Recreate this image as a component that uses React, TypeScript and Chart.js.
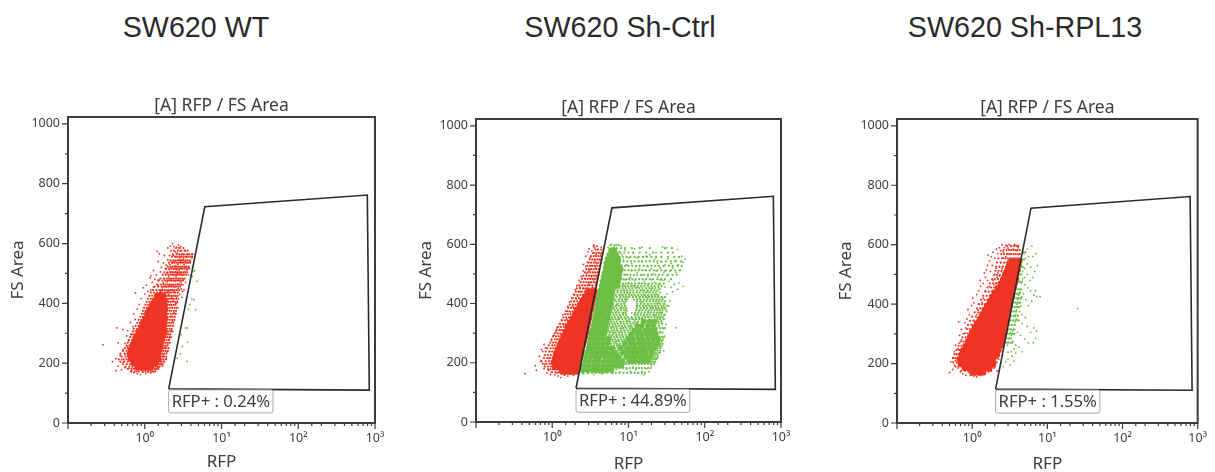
import React, { useEffect, useRef } from "react";
import { Chart, registerables } from "chart.js";

Chart.register(...registerables);

const panelTitles = ["SW620 WT", "SW620 Sh-Ctrl", "SW620 Sh-RPL13"];
const gateLabels = ["RFP+ : 0.24%", "RFP+ : 44.89%", "RFP+ : 1.55%"];
const plotTitle = "[A] RFP / FS Area";
const gateX = [2.05, 6.06, 794, 843, 2.05];
const gateY = [114, 723, 762, 110, 114];

// Dense parts of each cloud: [FS Area, RFP, RFP, ...]
const wtRedCore = [
  [185, .8, .9, 1.0, 1.1, 1.2],
  [200, .72, .82, .92, 1.03, 1.15, 1.28, 1.4],
  [215, .66, .76, .86, .97, 1.09, 1.22, 1.36, 1.5],
  [230, .64, .74, .84, .95, 1.07, 1.2, 1.34, 1.5],
  [245, .66, .76, .87, .98, 1.1, 1.24, 1.4, 1.55],
  [260, .7, .8, .9, 1.02, 1.15, 1.3, 1.45, 1.6],
  [275, .74, .84, .95, 1.07, 1.2, 1.35, 1.5, 1.65],
  [290, .78, .88, 1.0, 1.12, 1.26, 1.42, 1.6, 1.72],
  [305, .84, .95, 1.06, 1.2, 1.35, 1.5, 1.68, 1.8],
  [320, .9, 1.0, 1.12, 1.26, 1.42, 1.58, 1.75],
  [335, .95, 1.07, 1.2, 1.34, 1.5, 1.65, 1.8],
  [350, 1.02, 1.15, 1.28, 1.42, 1.58, 1.75, 1.85],
  [365, 1.08, 1.2, 1.34, 1.5, 1.65, 1.8],
  [380, 1.15, 1.28, 1.42, 1.58, 1.72, 1.85],
  [395, 1.25, 1.38, 1.52, 1.68, 1.82],
  [410, 1.35, 1.5, 1.65, 1.8],
  [425, 1.45, 1.6, 1.75],
];
const ctrlRedCore = [
  [170, 1.35, 1.5, 1.68, 1.85, 2.05],
  [185, 1.1, 1.22, 1.36, 1.5, 1.68, 1.85, 2.05, 2.2],
  [200, 1.05, 1.16, 1.3, 1.44, 1.6, 1.78, 1.98, 2.2],
  [215, 1.08, 1.2, 1.33, 1.48, 1.65, 1.83, 2.03, 2.28],
  [230, 1.12, 1.25, 1.38, 1.54, 1.7, 1.9, 2.1, 2.35],
  [245, 1.18, 1.3, 1.45, 1.6, 1.78, 1.98, 2.2, 2.42],
  [260, 1.25, 1.38, 1.53, 1.7, 1.88, 2.08, 2.3, 2.52],
  [275, 1.32, 1.46, 1.62, 1.8, 2, 2.2, 2.44, 2.62],
  [290, 1.4, 1.55, 1.72, 1.9, 2.1, 2.32, 2.55, 2.72],
  [305, 1.5, 1.66, 1.84, 2.04, 2.25, 2.48, 2.7, 2.82],
  [320, 1.6, 1.78, 1.96, 2.16, 2.38, 2.6, 2.85],
  [335, 1.72, 1.9, 2.1, 2.3, 2.5, 2.75, 2.95],
  [350, 1.85, 2.04, 2.25, 2.46, 2.7, 2.95, 3.05],
  [365, 2, 2.2, 2.42, 2.65, 2.9, 3.1],
  [380, 2.15, 2.36, 2.6, 2.85, 3.1, 3.22],
  [395, 2.3, 2.52, 2.78, 3.05, 3.3],
  [410, 2.5, 2.72, 2.98, 3.25, 3.4],
  [425, 2.7, 2.95, 3.2, 3.5],
  [440, 2.95, 3.2, 3.5, 3.6],
];
const ctrlGreenCore = [
  [175, 2.5, 2.9, 3.4, 3.9, 4.5, 5.2, 6],
  [190, 2.6, 3, 3.5, 4, 4.6, 5.3, 6.1, 7, 8],
  [205, 2.7, 3.1, 3.6, 4.1, 4.8, 5.5, 6.3, 7.2, 8.2, 10.5, 12, 14, 16, 18],
  [220, 2.75, 3.2, 3.7, 4.2, 4.9, 5.6, 6.4, 7.3, 9.5, 11, 12.5, 14.5, 16.5, 19],
  [235, 2.85, 3.3, 3.8, 4.4, 5, 5.8, 6.6, 8.5, 10, 11.5, 13, 15, 17, 20],
  [250, 3, 3.4, 3.9, 4.5, 5.2, 6, 8, 9.5, 11, 12.5, 14.5, 16.5, 19, 22],
  [265, 3.05, 3.5, 4, 4.6, 5.3, 9, 10.5, 12, 14, 16, 18.5, 21, 24],
  [280, 3.15, 3.6, 4.1, 4.7, 5.4, 10, 11.5, 13.5, 15.5, 18, 21, 24],
  [295, 3.25, 3.7, 4.2, 4.8, 11, 13, 15, 17.5, 20, 23],
  [310, 3.35, 3.8, 4.3, 4.9, 12, 14, 16.5, 19, 22],
  [325, 3.45, 3.9, 4.4, 5, 13, 15, 18, 21],
  [340, 3.55, 4, 4.6, 5.2, 16, 19, 22],
  [355, 3.65, 4.1, 4.7, 5.3],
  [370, 3.75, 4.25, 4.8, 5.5],
  [385, 3.85, 4.4, 5, 5.7],
  [400, 3.95, 4.5, 5.1, 5.8],
  [415, 4.05, 4.6, 5.2, 5.9],
  [430, 4.2, 4.7, 5.3, 6],
  [445, 4.3, 4.85, 5.5, 6.2],
  [460, 4.45, 5, 5.6, 6.4, 7.2],
  [475, 4.55, 5.1, 5.8, 6.5, 7.3],
  [490, 4.7, 5.3, 6, 6.7, 7.5],
  [505, 4.85, 5.4, 6.1, 6.9, 7.7],
  [520, 5, 5.6, 6.3, 7, 7.8],
  [535, 5.1, 5.7, 6.4, 7.2],
  [550, 5.3, 5.9, 6.6, 7.3],
  [565, 5.6, 6.2, 6.9],
  [580, 5.9, 6.5],
];
const rplRedCore = [
  [170, 1, 1.12, 1.25, 1.4],
  [185, .8, .9, 1, 1.12, 1.25, 1.4, 1.55, 1.7],
  [200, .7, .8, .9, 1, 1.12, 1.25, 1.4, 1.55, 1.72, 1.9],
  [215, .68, .77, .87, .98, 1.1, 1.23, 1.37, 1.53, 1.7, 1.9],
  [230, .72, .82, .92, 1.03, 1.16, 1.3, 1.45, 1.62, 1.8, 2, 2.15],
  [245, .76, .86, .97, 1.08, 1.21, 1.36, 1.52, 1.7, 1.9, 2.1, 2.25],
  [260, .82, .92, 1.03, 1.15, 1.29, 1.44, 1.6, 1.8, 2, 2.2, 2.4],
  [275, .88, .99, 1.1, 1.23, 1.37, 1.53, 1.7, 1.9, 2.1, 2.3, 2.5],
  [290, .94, 1.06, 1.18, 1.32, 1.47, 1.63, 1.82, 2, 2.25, 2.45, 2.6],
  [305, 1, 1.12, 1.26, 1.4, 1.56, 1.74, 1.94, 2.15, 2.4, 2.6, 2.7],
  [320, 1.08, 1.2, 1.34, 1.5, 1.66, 1.85, 2.05, 2.28, 2.5, 2.75],
  [335, 1.16, 1.3, 1.45, 1.6, 1.78, 1.98, 2.2, 2.42, 2.65, 2.85],
  [350, 1.26, 1.4, 1.55, 1.72, 1.9, 2.1, 2.32, 2.55, 2.8, 2.95],
  [365, 1.36, 1.5, 1.66, 1.84, 2.04, 2.25, 2.48, 2.72, 2.98],
  [380, 1.46, 1.62, 1.8, 1.98, 2.18, 2.4, 2.62, 2.88, 3.05],
  [395, 1.58, 1.75, 1.94, 2.14, 2.35, 2.58, 2.8, 3.05, 3.2],
  [410, 1.72, 1.9, 2.1, 2.3, 2.52, 2.75, 3, 3.25],
  [425, 1.85, 2.05, 2.25, 2.47, 2.7, 2.95, 3.2, 3.4],
  [440, 2, 2.2, 2.42, 2.65, 2.9, 3.15, 3.45],
  [455, 2.2, 2.42, 2.65, 2.9, 3.15, 3.4, 3.6],
  [470, 2.4, 2.62, 2.87, 3.12, 3.4, 3.7],
  [485, 2.6, 2.85, 3.1, 3.35, 3.65, 3.85],
  [500, 2.75, 3, 3.25, 3.55, 3.85],
  [515, 2.95, 3.2, 3.5, 3.8, 4.05],
  [530, 3.1, 3.4, 3.7, 3.95, 4.15],
  [545, 3.3, 3.6, 3.9, 4.25],
];

// Lighter bands of single events around the dense parts: [FS Area, RFP, RFP, ...]
const wtRedHalo = [
  [172, .66, .74, .83, .93, 1.02, 1.1, 1.2, 1.28, 1.36],
  [181, .6, .67, .72, 1.26, 1.34, 1.42, 1.5],
  [188, .56, .63, .69, 1.3, 1.38, 1.47, 1.55],
  [196, .52, .58, .64, .68, 1.46, 1.55, 1.63, 1.72],
  [205, .48, .54, .6, .66, 1.5, 1.58, 1.66, 1.78],
  [213, .46, .53, .58, .62, 1.58, 1.66, 1.75, 1.88],
  [222, .5, .56, .6, 1.6, 1.7, 1.78, 1.9],
  [232, .48, .55, .6, 1.6, 1.68, 1.8, 1.92],
  [241, .52, .58, .62, 1.64, 1.74, 1.86, 2],
  [250, .55, .6, .64, 1.68, 1.78, 1.9, 2.04],
  [259, .58, .63, .67, 1.72, 1.84, 1.96],
  [268, .6, .66, .7, 1.76, 1.88, 2, 2.12],
  [277, .62, .68, .72, 1.8, 1.92, 2.05],
  [287, .65, .71, .75, 1.85, 1.96, 2.1, 2.2],
  [296, .68, .73, .78, 1.9, 2, 2.15],
  [306, .7, .76, .81, 1.95, 2.05, 2.2, 2.3],
  [315, .72, .79, .85, 1.95, 2.1, 2.24],
  [325, .76, .83, .88, 1.92, 2.02, 2.15, 2.3],
  [335, .8, .86, .92, 1.95, 2.08, 2.22, 2.36],
  [345, .83, .9, .97, 1.98, 2.12, 2.28, 2.42],
  [355, .88, .95, 1.02, 1.98, 2.15, 2.3, 2.46],
  [365, .92, .98, 1.05, 2, 2.18, 2.34, 2.5],
  [375, .95, 1.02, 1.1, 1.95, 2.1, 2.22, 2.4, 2.55],
  [385, .98, 1.06, 1.14, 1.98, 2.12, 2.28, 2.45, 2.6],
  [395, 1.02, 1.1, 1.18, 1.95, 2.08, 2.22, 2.36, 2.52],
  [405, 1.06, 1.15, 1.24, 1.95, 2.05, 2.18, 2.32, 2.5, 2.65],
  [415, 1.1, 1.2, 1.3, 1.92, 2.02, 2.14, 2.26, 2.4, 2.58],
  [425, 1.15, 1.25, 1.36, 1.88, 2, 2.1, 2.22, 2.35, 2.5, 2.68],
  [436, 1.2, 1.32, 1.46, 1.58, 1.7, 1.84, 1.96, 2.08, 2.2, 2.36, 2.5, 2.7],
  [444, 1.28, 1.42, 1.56, 1.68, 1.8, 1.92, 2.04, 2.16, 2.3, 2.44, 2.6, 2.8],
  [456, 1.35, 1.5, 1.66, 1.78, 1.9, 2.02, 2.14, 2.26, 2.4, 2.56, 2.74, 2.9],
  [463, 1.45, 1.62, 1.76, 1.88, 2, 2.12, 2.25, 2.38, 2.52, 2.68, 2.84, 3],
  [476, 1.5, 1.7, 1.85, 1.98, 2.1, 2.24, 2.36, 2.5, 2.64, 2.8, 2.96, 3.15],
  [483, 1.6, 1.78, 1.94, 2.06, 2.2, 2.34, 2.48, 2.62, 2.76, 2.92, 3.1, 3.3],
  [496, 1.72, 1.88, 2.04, 2.18, 2.3, 2.44, 2.58, 2.72, 2.88, 3.04, 3.22, 3.45],
  [504, 1.8, 1.98, 2.14, 2.28, 2.42, 2.56, 2.7, 2.86, 3.02, 3.2, 3.38, 3.6],
  [516, 1.9, 2.08, 2.24, 2.38, 2.52, 2.66, 2.82, 2.98, 3.14, 3.32, 3.55, 3.8],
  [523, 2, 2.16, 2.32, 2.48, 2.62, 2.78, 2.94, 3.1, 3.28, 3.48, 3.7],
  [536, 2.06, 2.26, 2.42, 2.58, 2.74, 2.9, 3.06, 3.24, 3.44, 3.66, 3.9],
  [544, 2.16, 2.36, 2.54, 2.72, 2.88, 3.04, 3.22, 3.42, 3.62, 3.85],
  [556, 2.26, 2.48, 2.66, 2.84, 3, 3.2, 3.4, 3.64, 3.9, 4.15],
  [564, 2.32, 2.6, 2.82, 3.02, 3.24, 3.5, 3.8, 4.1],
  [576, 2.4, 2.7, 3, 3.3, 3.6],
  [585, 2.55, 2.85, 3.2],
];
const ctrlRedHalo = [
  [168, .98, 1.1, 1.2, 1.28],
  [178, .88, .95, 1.02, 1.08, 1.2],
  [187, .8, .88, .96, 1.02],
  [197, .75, .84, .92, .98],
  [206, .72, .82, .9, .98, 1.02],
  [216, .78, .86, .94, 1.02],
  [226, .8, .88, .96, 1.05],
  [238, .82, .92, 1, 1.08],
  [249, .86, .95, 1.04, 1.12],
  [259, .9, 1, 1.08, 1.18],
  [268, .94, 1.03, 1.12, 1.22],
  [279, .98, 1.08, 1.16, 1.26],
  [289, 1.02, 1.12, 1.22, 1.32],
  [299, 1.08, 1.18, 1.28, 1.4],
  [310, 1.14, 1.24, 1.35, 1.45],
  [321, 1.2, 1.3, 1.42, 1.52],
  [331, 1.26, 1.38, 1.5, 1.62],
  [343, 1.34, 1.46, 1.58, 1.72],
  [353, 1.4, 1.52, 1.66, 1.8],
  [364, 1.48, 1.6, 1.74, 1.9],
  [374, 1.56, 1.68, 1.84, 2],
  [385, 1.62, 1.76, 1.92, 2.08],
  [396, 1.7, 1.86, 2.02, 2.2],
  [407, 1.78, 1.94, 2.12, 2.32],
  [418, 1.86, 2.04, 2.24, 2.44, 2.66],
  [429, 1.95, 2.14, 2.34, 2.54],
  [440, 2.04, 2.24, 2.44, 2.66],
  [451, 2.1, 2.32, 2.54, 2.76, 3, 3.3, 3.6],
  [461, 2.25, 2.46, 2.68, 2.9, 3.1, 3.35, 3.7],
  [472, 2.36, 2.58, 2.8, 3.02, 3.25, 3.5, 3.8],
  [483, 2.45, 2.7, 2.92, 3.14, 3.38, 3.64, 3.9],
  [494, 2.55, 2.8, 3.04, 3.28, 3.52, 3.78, 4],
  [505, 2.68, 2.92, 3.16, 3.4, 3.66, 3.92, 4.1],
  [516, 2.8, 3.02, 3.26, 3.5, 3.78, 4.05],
  [527, 2.9, 3.14, 3.38, 3.62, 3.9, 4.2],
  [538, 3, 3.24, 3.5, 3.76, 4.05, 4.3],
  [549, 3.1, 3.36, 3.62, 3.9, 4.2, 4.4],
  [560, 3.22, 3.5, 3.76, 4.05, 4.35],
  [571, 3.5, 3.8, 4.1, 4.5],
  [582, 3.7, 4, 4.4],
  [593, 3.5, 3.85],
];
const ctrlGreenHalo = [
  [166, 2.5, 2.9, 3.3, 3.7, 4.2, 4.7, 5.3, 6, 6.8, 7.6, 8.6, 9.6, 10.8, 12, 13.4, 15, 16.5],
  [182, 6.8, 7.6, 8.6, 9.4, 10.4, 11.4, 12.6, 13.8, 15, 16.4, 18, 19.5],
  [196, 8.6, 9.4, 10.2, 11.2, 12.4, 13.6, 15, 16.4, 18, 19.8, 21.5],
  [204, 8.9, 9.6, 19.8, 21, 22.5],
  [212, 7.8, 8.6, 9.2, 20, 21.5, 23],
  [219, 8, 8.8, 9, 20.5, 22, 24],
  [227, 7, 7.6, 8.3, 9, 21, 22.5, 24],
  [234, 7.2, 7.8, 8.2, 21.5, 23, 25],
  [241, 6.8, 7.4, 8, 9, 22, 24, 26],
  [249, 6.6, 7.2, 7.7, 24, 26],
  [257, 6.4, 7, 7.6, 8.4, 23, 25, 27],
  [264, 5.9, 6.5, 7, 7.7, 8.4, 26, 28],
  [272, 5.8, 6.3, 6.9, 7.5, 8.2, 9, 25, 27],
  [279, 5.6, 6.1, 6.7, 7.4, 8, 8.8, 9.4, 26, 28],
  [287, 5.4, 5.9, 6.5, 7.1, 7.8, 8.5, 9.4, 10.4, 25, 27, 29],
  [294, 5.1, 5.6, 6.2, 6.9, 7.6, 8.3, 9.2, 10.1],
  [302, 5.2, 5.7, 6.2, 6.8, 7.5, 8.2, 9, 10, 10.8, 24, 26, 28],
  [309, 5.4, 6, 6.5, 7.2, 8, 8.8, 9.7, 10.6, 11.5],
  [317, 5.4, 5.9, 6.4, 7, 7.8, 8.5, 9.4, 10.4, 11.2, 23.5, 26, 28, 30],
  [324, 5.6, 6.2, 6.8, 7.4, 8.2, 9, 10, 11, 12.2, 22.5, 25],
  [332, 5.6, 6.1, 6.6, 7.2, 7.9, 8.7, 9.6, 10.6, 11.6, 12.8, 23, 25, 27.5],
  [339, 5.9, 6.4, 7, 7.8, 8.6, 9.5, 10.4, 12, 13.4, 14.8, 15.5, 24.5, 27],
  [347, 5.7, 6.2, 6.8, 7.5, 8.3, 9.2, 10.2, 11.4, 12.6, 13.8, 15, 24, 26, 29],
  [354, 6, 6.6, 7.3, 8, 8.9, 9.8, 11, 12.4, 13.6, 15.2, 16.6, 18.2, 20, 22, 24, 26, 28],
  [362, 5.8, 6.4, 7, 7.7, 8.5, 9.3, 12, 13.2, 14.5, 16, 17.5, 19, 21, 23, 25, 27, 30],
  [369, 6.2, 6.8, 7.5, 8.4, 9.1, 12.3, 13.5, 14.8, 16.4, 18, 19.5, 21.5, 23.5, 25.5, 27.5],
  [377, 6, 6.6, 7.3, 8, 8.8, 9.4, 12.6, 13.8, 15.2, 16.8, 18.4, 20, 22, 24, 26, 28, 31],
  [384, 6.4, 7, 7.8, 8.6, 9.3, 12.9, 14.4, 16, 17.6, 19.4, 21, 23, 25, 28, 30],
  [392, 6.2, 6.8, 7.5, 8.2, 9, 12.8, 14, 15.6, 17, 18.8, 20.5, 22.5, 24.5, 27, 29, 32],
  [399, 6.3, 7.2, 8, 8.8, 13, 14.6, 16.2, 18, 19.8, 21.8, 23.8, 26, 29],
  [407, 6.2, 6.9, 7.6, 8.4, 9.2, 12.8, 14.2, 15.6, 17.2, 19, 21, 23, 25, 27.5, 30],
  [414, 6.6, 7.4, 8.2, 9, 9.6, 11.8, 13, 14.4, 16, 17.6, 19.4, 21.4, 23.4, 25.6, 28],
  [422, 6.4, 7, 7.8, 8.6, 9.4, 10.2, 11.4, 12.6, 14, 15.4, 17, 18.6, 20.5, 22.5, 24.5, 27, 30],
  [429, 6.8, 7.6, 8.4, 9.2, 10.2, 11, 12, 13.4, 14.8, 16.4, 18, 20, 22, 24.6],
  [437, 6.5, 7.2, 8, 8.8, 9.6, 10.5, 11.6, 12.8, 14, 15.6, 17, 19, 21, 23, 26],
  [444, 7.2, 8, 8.8, 9.6, 10.6, 11.6, 13, 14.4, 16, 17.8, 19.8, 21.8, 24],
  [452, 6.9, 7.6, 8.4, 9.2, 10.2, 11.2, 12.4, 13.8, 15.2, 17, 18.8, 20.6, 22.6, 25],
  [459, 7.6, 8.3, 9, 9.8, 10.8, 12, 13.2, 14.6, 16.2, 18, 20, 22, 24.5, 27],
  [467, 7.6, 8.4, 9.2, 10, 11, 12.2, 13.6, 15, 16.5, 18.5, 20.5, 23, 26, 29],
  [482, 8, 8.6, 9.4, 10.2, 11.2, 12.4, 13.8, 15.4, 17, 19, 21, 24, 27, 30, 36],
  [497, 8, 8.8, 9.6, 10.6, 11.8, 13, 14.6, 16, 18, 20, 22.5, 25, 28, 33, 38, 43],
  [512, 8.2, 9, 10, 11, 12.2, 13.6, 15, 17, 19, 21.5, 24, 27, 31, 36, 41, 47],
  [527, 8.2, 9, 10, 11.2, 12.6, 14, 15.8, 17.6, 20, 22.5, 25, 29, 34, 38, 44, 50],
  [542, 7.8, 8.6, 9.6, 10.8, 12, 13.6, 15, 17, 19, 21.5, 24, 27, 31, 36, 42, 49],
  [557, 7.6, 8.4, 9.4, 10.6, 12, 13.6, 15.5, 17.5, 20, 23, 27, 33, 40, 46],
  [572, 7, 7.8, 8.8, 10, 11.5, 14, 17, 21, 27, 33, 38],
  [587, 6.2, 7, 8, 9, 11, 14, 19, 30, 37],
  [597, 5.8, 6.6, 7.4],
];
const rplRedHalo = [
  [162, .98, 1.08, 1.2, 1.3],
  [176, .72, .8, .88, 1.5, 1.6, 1.72],
  [190, .6, .66, .72, .76, 1.78, 1.88, 2],
  [204, .56, .62, .66, 2, 2.1],
  [218, .56, .6, .64, 2.04, 2.16],
  [232, .58, .62, .66, 2.2],
  [246, .62, .67, .71],
  [260, .66, .72, .77],
  [274, .7, .76, .82],
  [288, .74, .82, .89],
  [302, .8, .87, .94],
  [316, .86, .93, 1],
  [330, .88, .98, 1.07],
  [344, .94, 1.04, 1.15],
  [358, 1, 1.12, 1.24],
  [372, 1.08, 1.2, 1.3],
  [386, 1.16, 1.28, 1.38],
  [400, 1.22, 1.36, 1.5],
  [414, 1.32, 1.46, 1.6],
  [428, 1.4, 1.56, 1.72],
  [442, 1.5, 1.66, 1.84],
  [456, 1.6, 1.78, 1.96, 2.08],
  [470, 1.72, 1.9, 2.08, 2.24],
  [484, 1.84, 2, 2.2, 2.44],
  [498, 1.96, 2.14, 2.34, 2.56],
  [512, 2.04, 2.24, 2.46, 2.68],
  [526, 2.08, 2.32, 2.56, 2.82],
  [540, 2.14, 2.4, 2.66, 2.9],
  [554, 2.24, 2.5, 2.76, 2.98, 3.2, 3.45, 3.7, 4, 4.3],
  [568, 2.44, 2.66, 2.9, 3.1, 3.3, 3.55, 3.8, 4.1, 4.3],
  [582, 2.6, 2.86, 3.1, 3.3, 3.55, 3.75, 4, 4.3],
  [596, 2.9, 3.3, 3.6, 3.9, 4.1],
];
const rplGreenHalo = [
  [270, 2.8, 3, 3.4],
  [285, 2.85, 3.05, 3.3],
  [300, 2.95, 3.15, 3.4, 3.65],
  [315, 3.05, 3.25, 3.55],
  [330, 3.15, 3.4, 3.7],
  [345, 3.25, 3.5, 3.8, 4.1],
  [360, 3.3, 3.55, 3.75, 4.05],
  [375, 3.35, 3.6, 3.85],
  [390, 3.45, 3.7, 3.95, 4.25],
  [405, 3.55, 3.8, 4.05, 4.35],
  [420, 3.65, 3.9, 4.15, 4.5],
  [435, 3.8, 4, 4.25],
  [450, 3.9, 4.15, 4.4],
  [475, 4.1, 4.3, 4.6],
  [500, 4.25, 4.5],
  [525, 4.4, 4.7],
  [550, 4.6, 4.9],
  [575, 4.8, 5.1],
];

// Scattered single events: RFP, FS Area, RFP, FS Area, ...
const wtRedDots = [
  .72,168, .8,165, .88,162, .95,170, 1.03,166, 1.12,170, 1.2,168, .68,175, .62,182, .55,185, .5,178, .42,175, .45,190,
  1.3,172, 1.4,178, 1.5,185, 1.6,195, 1.7,190, .78,172, .58,197, .52,203, .38,205, .42,215, .5,212, .48,226, .55,231,
  .52,245, .6,255, .286,262, .45,268, .55,266, .62,275, .58,291, .66,296, .6,309, .52,312, .435,318, .7,322, .65,336,
  .75,346, .72,365, .8,381, .755,435, .85,396, .9,416, 1,431, .95,452, 1.05,461, 1.18,485, 1.2,492, 1.3,510, 1.45,574,
  1.55,566, 1.5,540, 1.65,200, 1.8,205, 1.9,215, 1.75,228, 1.95,238, 1.85,255, 2.0,262, 2.1,280, 2.05,296, 2.2,310,
  2.15,326, 2.3,340, 2.25,356, 2.4,370, 2.3,385, 2.5,398, 2.35,408, 2.6,420, 1.1,440, 1.2,445, 1.3,455, 1.25,470,
  1.38,432, 1.35,480, 1.42,495, 1.5,460, 1.55,478, 1.6,505, 1.65,520, 1.62,440, 1.7,452, 1.75,468, 1.8,482, 1.85,436,
  1.9,455, 1.95,472, 2,440, 2.1,458, 2.05,490, 2.15,478, 2.2,445, 2.3,462, 2.4,438, 2.45,455, 2.5,475, 2.6,445, 2.7,465,
  2.8,482, 2.65,500, 2.55,490, 2.35,495, 2.25,505, 2.1,512, 1.95,500, 1.85,515, 1.75,535, 1.9,528, 2,545, 2.12,530,
  2.2,520, 2.3,535, 2.4,515, 2.5,525, 2.6,512, 2.7,530, 2.8,510, 2.9,500, 3,518, 3.1,495, 3.2,480, 3.3,505, 3.4,520,
  2.95,540, 2.85,552, 2.75,545, 2.55,555, 2.45,540, 2.35,560, 2.2,575, 2.1,560, 2,585, 2.3,600, 2.4,590, 2.5,572,
  2.65,568, 2.8,585, 2.95,590, 3.1,565, 3.2,550, 3.35,575, 3.5,555, 3.6,535, 3.75,520, 3.9,540, 4.1,552, 4.2,565,
  3.65,565, 3.4,540, 3.25,530, 3.05,545, 2.9,575, 3.55,510, 3.7,495, 3.4,470, 3.15,462, 3,448, 2.85,430, 2.75,415,
  2.6,400, 2.95,470, 3.1,440, 3.25,445, 3.05,420, 2.7,385, 2.55,365, 2.45,345, 2.35,325, 2.75,450, 1.7,420, 1.95,410,
  2.15,395, 2.25,420, 2.05,430, 1.85,395, 1.6,445, 1.45,425, 2.5,505, 2.62,588, 2.25,540, 2.15,592, 2.75,595, 1.8,560,
];
const wtGreenDots = [
  4.36,507, 4.8,474, 4.5,510, 4.2,490, 4.35,412, 3.87,396, 4.6,379, 3.7,380, 3.4,318, 3.6,318, 3,295, 3.6,270, 3.1,256,
  2.64,217, 3.57,206, 4.1,415, 2.9,230,
];
const ctrlRedDots = [
  .44,163, .6,190, .62,175, .68,222, .7,205, .75,238, .78,180, .8,195, .85,165, .72,245, .78,262, .82,250, .9,175,
  .95,160, 1,168, .9,215, .92,238, 1,258, 1.08,160, 1.15,165, 1.2,155, 1.3,150, 1.45,158, 1.6,155, 1.75,162, 1.9,158,
  .98,275, 1.05,292, 1.1,270, 1.12,305, 1.15,318, 1.2,290, 1.25,332, 1.28,310, 1.32,345, 1.38,362, 1.42,328, 1.5,375,
  1.55,348, 1.6,390, 1.68,405, 1.72,372, 1.8,418, 1.85,390, 1.9,432, 1.95,408, 2,446, 2.1,460, 2.15,425, 2.25,478,
  2.35,440, 2.4,492, 2.5,462, 2.55,510, 2.65,485, 2.75,525, 2.8,500, 2.9,540, 3,465, 3.05,510, 3.15,555, 3.25,490,
  3.3,528, 3.4,570, 3.5,598, 3.55,505, 3.6,545, 3.7,520, 3.75,565, 3.85,535, 3.95,582, 4.05,500, 4.15,548, 4.3,568,
  4.4,590, 3.2,470, 3.4,455, 2.6,450, 2.45,420, 2.85,452, 3.05,585, 3.3,578, 3.6,588, 2.55,532, 2.75,560, 2.95,575,
  3.15,515, 3.5,480, 3.8,490, 3.65,470, 2.3,455, 2.2,440, 2.05,415, 1.95,380, 2.3,405, 2.15,395,
];
const ctrlGreenDots = [
  2.6,162, 3,165, 3.5,160, 4,168, 4.5,162, 5,168, 5.5,172, 6.2,165, 7,178, 7.8,170, 8.5,182, 9.5,178, 10.5,172, 11.5,185,
  12.5,178, 13.5,165, 15,172, 16,160, 17,180, 18.5,170, 20,190, 22,200, 24,215, 26,235, 27,255, 29,240, 28,275, 30,290,
  26,305, 29,315, 31,330, 27,342, 24,355, 29,360, 32,372, 27,385, 30,398, 34,392, 25,402, 28,420, 32,432, 35,408,
  42,318, 23,430, 26,448, 21,415, 20,388, 18,372, 16,360, 14,350, 12,345, 10,340, 9,352, 8,338, 7.2,345, 6.6,330, 6,320,
  6.4,300, 7,290, 7.8,305, 8.4,275, 7.4,260, 6.6,250, 7,235, 8,315, 9,322, 10.5,325, 11.5,335, 6.4,360, 7,372, 7.8,358,
  8.5,368, 9.5,375, 11,368, 12.5,362, 14,375, 16,385, 18,395, 15,405, 13,392, 8,385, 7,395, 6.6,410, 7.6,415, 8.8,402,
  9.2,420, 8,430, 7.2,438, 8.6,445, 9.8,435, 11,430, 12.5,425, 14,418, 16,428, 18,440, 20,450, 15,445, 13,455, 11.5,460,
  10,470, 8.5,462, 9,480, 10.5,488, 12,478, 14,470, 16,475, 18,465, 20,480, 22,472, 25,465, 28,478, 24,490, 21,500, 18,492,
  15,495, 13,505, 11,510, 9.2,498, 8.5,515, 9.5,530, 11,535, 12.5,525, 14,518, 16,512, 18,525, 20,518, 23,510, 26,520,
  29,505, 32,495, 35,510, 38,520, 42,505, 45,530, 40,545, 36,535, 33,550, 30,530, 27,540, 24,535, 22,550, 19,545, 17,560,
  15,540, 13,555, 11.5,570, 10,555, 8.6,548, 8.2,565, 9,580, 8,595, 7,598, 6,600, 12,585, 15,590, 19,565, 23,572, 28,590,
  32,588, 37,588, 44,583, 50,560, 52,540, 48,512, 55,550, 46,470, 52,458, 44,448, 38,440, 34,475, 40,465, 36,455, 30,455,
  26,480, 30,510, 18,420, 20,425, 22,400, 24,380, 26,370, 22,360, 20,345, 18,355, 15,348, 13,338, 11,348, 9.5,342, 8.8,310,
  7.5,325, 7,310, 6.2,280, 6.7,270, 7.2,275, 5.8,265, 6,290, 5.6,305, 5.6,330, 5.9,345, 6.4,385, 6.8,450, 7.5,470, 8,490,
  8.2,510, 8,530, 7.8,550, 7.6,575, 6.5,590, 5.4,590, 8.6,205, 9,198, 9.5,205, 8.2,225, 8.8,195, 7.6,215, 6.8,225, 7.3,250,
];
const rplRedDots = [
  .5,170, .55,180, .58,195, .52,205, .6,210, .55,220, .62,230, .58,240, .65,250, .6,262, .67,268, .72,280, .68,295, .76,300,
  .72,315, .82,320, .8,338, .66,340, .85,350, .92,365, .88,382, .98,395, 1.05,405, 1.02,420, 1.15,432, 1.22,445, 1.3,460,
  1.28,480, 1.4,470, 1.5,490, 1.45,505, 1.55,515, 1.6,530, 1.7,545, 1.62,565, 1.8,560, 1.9,575, 2,555, 2.1,585, 2.2,570,
  2.3,590, 2.4,580, 2.5,600, 2.6,575, 2.7,590, 2.8,598, 2.9,570, 3,588, 3.1,600, 3.3,595, 3.5,585, 3.7,600, 3.9,580, 4.1,590,
  .65,185, .7,172, .75,165, .82,160, .9,172, .95,160, 1.05,158, 1.15,155, 1.3,160, 1.5,165, 1.65,172, 1.8,175, 1.95,185,
  2.05,195, 2.1,205, 2.15,175, 2.25,215, 1.9,480, 2,500, 2.1,520, 2.2,505, 2.3,525, 2.4,540, 2.5,520, 2.6,555, 2.7,540,
  2.8,560, 2.85,520, 2.95,545, 1.75,510, 1.85,530, 1.6,480, 1.7,460, 1.85,445, 1.95,465, 2.05,470, 1.5,445, 1.4,420, 1.35,405,
  1.25,400, 1.2,380, 1.15,365, 1.05,345, 1,330, .95,310, .9,295, .85,275, .78,258, .7,240, 2.15,490, 2.3,495, 2.45,510, 2.55,490,
];
const rplGreenDots = [
  2.6,190, 2.8,205, 3,215, 3.2,195, 3.4,225, 3.6,208, 3.8,235, 3.3,240, 3.6,250, 3,238, 2.95,262, 3.2,270, 3.5,275, 3.8,262,
  4.2,255, 4.6,240, 3.1,285, 3.3,295, 3.55,300, 3.25,305, 3.45,310, 3.7,315, 4,305, 4.4,295, 5,282, 5.6,270, 6.5,270, 7,285,
  6,305, 7.2,310, 6.6,320, 5.4,325, 4.6,335, 3.7,340, 3.9,350, 4.2,345, 4.6,365, 5.1,355, 3.8,365, 3.9,380, 4.1,390, 4.3,375,
  4.5,395, 4.2,405, 4.4,418, 4.6,425, 3.95,400, 4.05,415, 4.15,430, 4.3,440, 4.5,450, 4.8,435, 5.2,415, 5.6,395, 6.2,410,
  6.6,430, 7.2,425, 8,425, 7,445, 6,445, 5.5,455, 5,465, 4.5,470, 4.7,485, 5,490, 5.4,500, 5.9,480, 6.4,490, 6.8,510, 6,525,
  5.4,535, 5,520, 4.7,510, 4.6,540, 5.1,555, 5.6,560, 4.9,570, 5.4,585, 6.2,595, 7,570, 6.4,560, 7.4,530, 25.3,385,
];

const redCores = [wtRedCore, ctrlRedCore, rplRedCore];
const greenCores = [[], ctrlGreenCore, []];
const redHalos = [wtRedHalo, ctrlRedHalo, rplRedHalo];
const greenHalos = [[], ctrlGreenHalo, rplGreenHalo];
const redDots = [wtRedDots, ctrlRedDots, rplRedDots];
const greenDots = [wtGreenDots, ctrlGreenDots, rplGreenDots];

const fromRows = (rows: number[][]) =>
  rows.flatMap((r) => r.slice(1).map((x) => ({ x, y: r[0] })));
const fromPairs = (flat: number[]) => {
  const out: { x: number; y: number }[] = [];
  for (let i = 0; i + 1 < flat.length; i += 2) out.push({ x: flat[i], y: flat[i + 1] });
  return out;
};

const RED = "#ee3524";
const GREEN = "#6dbe45";
const INK = "#3d3d3d";
const FONT = '"Noto Sans", sans-serif';

// Layout of the three plots on the page
const boxes = [
  { left: 0, top: 96, w: 400, plotL: 68, plotR: 375, plotB: 423 },
  { left: 408, top: 98, w: 400, plotL: 476, plotR: 781, plotB: 422 },
  { left: 828, top: 98, w: 387, plotL: 897, plotR: 1203, plotB: 423 },
];
const titleCentres = [196, 620, 1025];

function makePlugin(label: string) {
  return {
    id: "flowDecor",
    afterDraw(chart: any) {
      const { ctx, chartArea: a, scales } = chart;
      ctx.save();
      ctx.strokeStyle = INK;
      ctx.lineWidth = 2;
      ctx.strokeRect(a.left, a.top, a.right - a.left, a.bottom - a.top);
      ctx.lineWidth = 1.2;
      ctx.beginPath();
      for (const t of scales.x.ticks) {
        const px = scales.x.getPixelForValue(t.value);
        const p = Math.log10(t.value);
        const len = Math.abs(p - Math.round(p)) < 1e-6 ? 6 : 3;
        ctx.moveTo(px, a.bottom);
        ctx.lineTo(px, a.bottom + len);
      }
      for (const t of scales.y.ticks) {
        const py = scales.y.getPixelForValue(t.value);
        const len = t.value % 200 === 0 ? 6 : 3;
        ctx.moveTo(a.left, py);
        ctx.lineTo(a.left - len, py);
      }
      ctx.stroke();
      // gate annotation box, anchored on the gate's lower-left corner
      const bx = scales.x.getPixelForValue(gateX[0]);
      const by = scales.y.getPixelForValue(gateY[0]) + 1;
      ctx.font = `16.6px ${FONT}`;
      const tw = ctx.measureText(label).width;
      ctx.fillStyle = "#fff";
      ctx.strokeStyle = "#a8a8a8";
      ctx.lineWidth = 1;
      ctx.beginPath();
      ctx.roundRect(bx, by, tw + 6, 23, 2);
      ctx.fill();
      ctx.stroke();
      ctx.fillStyle = INK;
      ctx.textBaseline = "middle";
      ctx.fillText(label, bx + 3, by + 12);
      ctx.restore();
    },
  };
}

function Panel({ index }: { index: number }) {
  const ref = useRef<HTMLCanvasElement>(null);
  const b = boxes[index];
  useEffect(() => {
    const dot = (data: any[], color: string, r: number, order: number) => ({
      type: "scatter",
      data,
      order,
      backgroundColor: color,
      borderWidth: 0,
      pointRadius: r,
      showLine: false,
    });
    const chart = new Chart(ref.current!, {
      type: "scatter",
      data: {
        datasets: [
          {
            data: gateX.map((x, i) => ({ x, y: gateY[i] })),
            order: 0,
            showLine: true,
            borderColor: "#2b2b2b",
            borderWidth: 1.6,
            pointRadius: 0,
            fill: false,
            tension: 0,
          },
          dot(fromPairs(greenDots[index]), GREEN, 0.9, 1),
          dot(fromRows(greenHalos[index]), GREEN, 1.15, 2),
          dot(fromRows(greenCores[index]), GREEN, 2.8, 3),
          dot(fromPairs(redDots[index]), RED, 0.9, 4),
          dot(fromRows(redHalos[index]), RED, 1.1, 5),
          dot(fromRows(redCores[index]), RED, 3.1, 6),
        ] as any,
      },
      plugins: [makePlugin(gateLabels[index])],
      options: {
        responsive: false,
        animation: false,
        layout: { padding: { right: b.left + b.w - b.plotR, left: 0, top: 0, bottom: 0 } },
        plugins: {
          legend: { display: false },
          tooltip: { enabled: false },
          title: {
            display: true,
            fullSize: false,
            text: plotTitle,
            color: INK,
            font: { family: FONT, size: 17.5, weight: "normal", lineHeight: 1.2 },
            padding: { top: 0, bottom: 0 },
          },
        },
        scales: {
          x: {
            type: "logarithmic",
            min: 0.1,
            max: 1000,
            afterFit: (s: any) => {
              s.height = 376 + b.top - b.plotB;
            },
            grid: { display: false, drawTicks: false },
            border: { display: false },
            ticks: {
              autoSkip: false,
              maxRotation: 0,
              padding: 8,
              color: INK,
              font: { family: FONT, size: 12.5 },
              callback: (v: any) => {
                const labels: Record<number, string> = { 1: "10⁰", 10: "10¹", 100: "10²", 1000: "10³" };
                return labels[Number(v)] ?? "";
              },
            },
            title: {
              display: true,
              text: "RFP",
              color: INK,
              font: { family: FONT, size: 17 },
              padding: { top: 0, bottom: 0 },
            },
          },
          y: {
            type: "linear",
            min: 0,
            max: 1023,
            afterFit: (s: any) => {
              s.width = b.plotL - b.left;
            },
            grid: { display: false, drawTicks: false },
            border: { display: false },
            ticks: {
              stepSize: 100,
              includeBounds: false,
              autoSkip: false,
              padding: 8,
              color: INK,
              font: { family: FONT, size: 12.5 },
              callback: (v: any) => (Number(v) % 200 === 0 ? String(v) : ""),
            },
            title: {
              display: true,
              text: "FS Area",
              color: INK,
              font: { family: FONT, size: 17 },
              padding: { top: 8, bottom: 0 },
            },
          },
        },
      } as any,
    });
    return () => chart.destroy();
  }, []);
  return (
    <canvas
      ref={ref}
      width={b.w}
      height={376}
      style={{ position: "absolute", left: b.left, top: b.top, width: b.w, height: 376, filter: "blur(0.4px)" }}
    />
  );
}

export default function App() {
  return (
    <div style={{ position: "absolute", left: 0, top: 0, width: 1215, height: 472, overflow: "hidden", background: "#fff" }}>
      {panelTitles.map((t, i) => (
        <div
          key={t}
          style={{
            position: "absolute",
            left: titleCentres[i] - 200,
            width: 400,
            top: 10,
            textAlign: "center",
            font: '28.7px "Liberation Sans", Arial, sans-serif',
            lineHeight: "34px",
            color: "#2a2a2a",
          }}
        >
          {t}
        </div>
      ))}
      {panelTitles.map((t, i) => (
        <Panel key={t} index={i} />
      ))}
    </div>
  );
}
